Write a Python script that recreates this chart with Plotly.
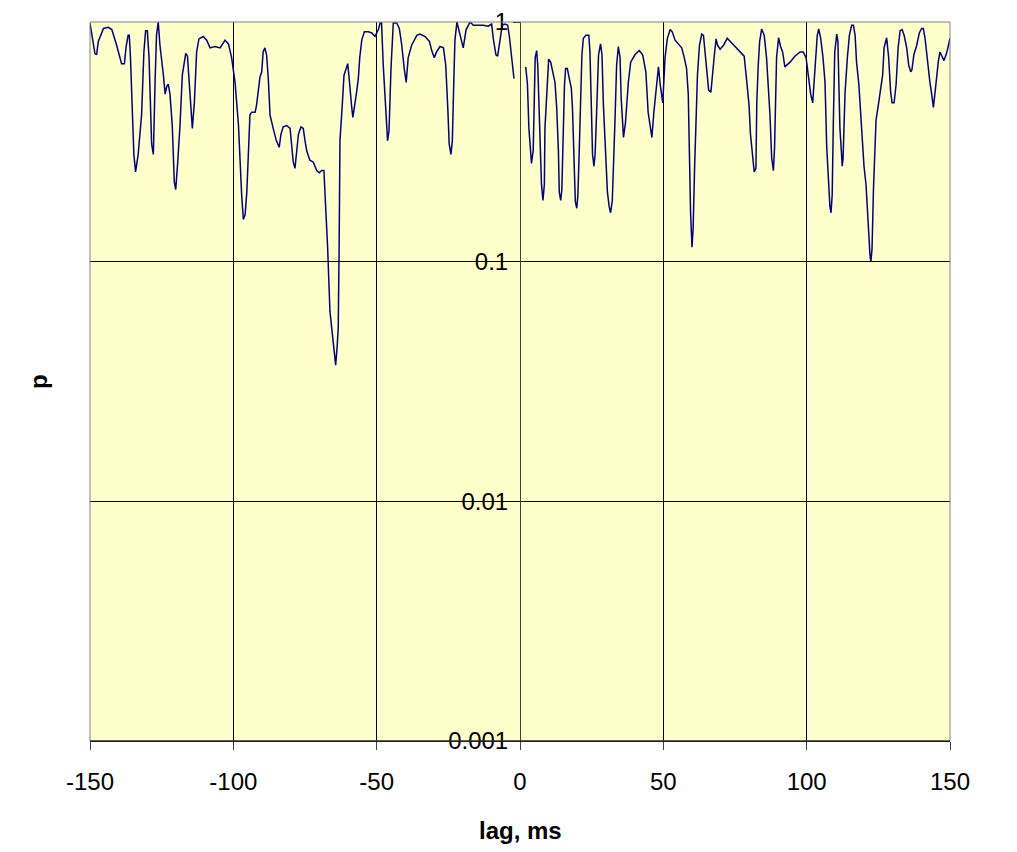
import plotly.graph_objects as go

# Cross-correlation significance (p) versus lag, two segments either side of zero lag
lag_neg = [
    -150.0, -148.3, -147.7, -147.1, -145.3, -143.6, -142.4, -140.7, -139.0, -138.0,
    -137.4, -136.7, -136.3, -135.9, -134.7, -134.1, -133.2, -132.0, -131.2, -130.6,
    -130.0, -129.4, -128.5, -127.9, -127.3, -126.8, -126.2, -125.6, -124.4, -123.8,
    -123.2, -122.7, -122.1, -121.3, -120.6, -120.1, -119.4, -118.6, -117.8, -116.6,
    -116.0, -114.8, -114.3, -113.6, -112.8, -112.0, -110.5, -109.3, -108.1, -106.4,
    -104.6, -102.9, -101.7, -100.6, -99.4, -98.2, -97.7, -97.1, -96.5, -95.9,
    -95.3, -94.8, -94.2, -93.6, -92.4, -91.9, -91.3, -90.7, -90.1, -89.6,
    -89.0, -88.4, -87.8, -87.2, -86.1, -85.0, -84.0, -83.4, -82.6, -81.4,
    -80.2, -79.7, -79.1, -78.5, -78.0, -77.3, -76.4, -75.6, -75.0, -74.4,
    -73.3, -72.1, -70.9, -70.0, -69.2, -68.4, -67.7, -67.1, -66.3, -65.6,
    -64.8, -64.3, -63.8, -63.4, -63.1, -62.8, -62.0, -61.4, -60.8, -60.1,
    -59.7, -59.3, -58.7, -58.3, -57.6, -57.0, -56.4, -55.9, -55.2, -54.3,
    -52.9, -51.7, -50.6, -49.4, -48.8, -48.3, -47.7, -46.9, -46.2, -45.7,
    -45.0, -44.2, -43.0, -42.1, -41.3, -40.4, -39.7, -39.0, -37.8, -36.0,
    -34.9, -33.1, -31.6, -30.8, -29.9, -29.1, -27.9, -26.7, -25.9, -25.2,
    -24.7, -24.1, -23.6, -23.1, -22.7, -22.0, -20.9, -19.8, -18.8, -17.4,
    -16.3, -14.5, -12.8, -11.1, -9.9, -9.3, -8.4, -7.8, -7.0, -6.2,
    -5.2, -4.3, -3.7, -2.9, -2.1,
]
p_neg = [
    0.99, 0.74, 0.73, 0.83, 0.94, 0.95, 0.93, 0.80, 0.67, 0.67,
    0.79, 0.88, 0.88, 0.72, 0.28, 0.237, 0.28, 0.41, 0.75, 0.92,
    0.92, 0.71, 0.31, 0.28, 0.56, 0.88, 1.0, 0.80, 0.60, 0.50,
    0.54, 0.55, 0.50, 0.37, 0.215, 0.20, 0.26, 0.37, 0.60, 0.74,
    0.72, 0.42, 0.36, 0.46, 0.75, 0.85, 0.87, 0.84, 0.78, 0.79,
    0.78, 0.84, 0.81, 0.71, 0.56, 0.37, 0.27, 0.19, 0.15, 0.157,
    0.195, 0.30, 0.41, 0.42, 0.42, 0.45, 0.53, 0.59, 0.62, 0.75,
    0.78, 0.73, 0.58, 0.41, 0.36, 0.32, 0.30, 0.34, 0.365, 0.37,
    0.36, 0.30, 0.26, 0.245, 0.28, 0.34, 0.365, 0.36, 0.32, 0.29,
    0.265, 0.26, 0.24, 0.235, 0.24, 0.24, 0.16, 0.114, 0.062, 0.051,
    0.041, 0.037, 0.044, 0.053, 0.114, 0.32, 0.45, 0.60, 0.63, 0.67,
    0.60, 0.51, 0.44, 0.40, 0.45, 0.51, 0.58, 0.71, 0.84, 0.91,
    0.91, 0.90, 0.87, 0.93, 0.99, 0.99, 0.66, 0.44, 0.32, 0.35,
    0.64, 0.99, 0.99, 0.94, 0.81, 0.64, 0.56, 0.71, 0.80, 0.88,
    0.89, 0.87, 0.83, 0.76, 0.71, 0.75, 0.79, 0.78, 0.66, 0.44,
    0.31, 0.28, 0.32, 0.56, 0.84, 1.0, 0.88, 0.78, 0.93, 1.0,
    0.97, 0.97, 0.97, 0.96, 0.98, 0.85, 0.73, 0.72, 0.85, 0.97,
    0.98, 0.97, 0.87, 0.72, 0.58,
]

lag_pos = [
    2.0, 2.6, 3.1, 3.7, 4.0, 4.6, 4.9, 5.3, 5.8, 6.2,
    6.7, 7.5, 8.0, 8.5, 8.7, 9.5, 10.0, 10.7, 11.6, 12.2,
    12.8, 13.4, 13.7, 14.2, 14.6, 15.0, 15.5, 15.9, 16.5, 17.2,
    17.9, 18.3, 18.8, 19.3, 19.8, 20.2, 20.7, 21.2, 21.6, 22.1,
    23.0, 24.0, 24.4, 24.9, 25.3, 25.8, 26.2, 26.7, 27.4, 28.1,
    28.6, 29.1, 29.8, 30.5, 31.1, 31.6, 32.2, 32.8, 33.2, 33.7,
    34.3, 34.9, 35.3, 36.1, 36.8, 37.8, 38.6, 40.1, 41.6, 42.8,
    43.9, 44.7, 45.5, 46.0, 46.7, 47.4, 47.8, 48.3, 48.9, 49.8,
    50.6, 51.4, 52.4, 53.1, 54.1, 55.2, 56.4, 57.3, 58.1, 58.7,
    59.1, 59.5, 60.0, 60.4, 60.9, 61.4, 61.9, 62.6, 63.4, 64.0,
    64.6, 65.2, 65.8, 66.6, 67.2, 67.8, 68.4, 68.9, 69.8, 71.0,
    72.3, 73.3, 75.0, 76.7, 78.2, 79.0, 79.9, 80.4, 81.1, 81.7,
    82.3, 82.6, 83.1, 83.6, 84.3, 85.2, 86.0, 86.6, 87.2, 87.8,
    88.4, 88.8, 89.2, 89.5, 90.2, 90.9, 91.6, 92.4, 94.2, 95.9,
    97.7, 98.8, 99.8, 100.6, 101.4, 102.1, 102.5, 103.1, 103.7, 104.2,
    104.9, 105.7, 106.4, 107.0, 107.7, 108.1, 108.5, 108.9, 109.3, 109.8,
    110.5, 110.9, 111.3, 111.6, 112.1, 112.4, 112.7, 113.4, 114.2, 114.9,
    115.7, 116.3, 116.9, 117.4, 118.2, 118.8, 119.5, 120.0, 120.7, 121.2,
    121.6, 122.1, 122.4, 122.8, 123.3, 123.8, 124.2, 125.0, 125.8, 126.5,
    127.0, 127.9, 128.6, 129.3, 129.8, 130.5, 131.2, 131.9, 132.6, 133.3,
    134.0, 134.9, 135.6, 136.3, 136.7, 137.4, 138.4, 139.3, 140.1, 140.7,
    141.3, 141.9, 142.4, 143.0, 143.6, 144.2, 144.8, 145.4, 145.9, 146.5,
    147.1, 147.9, 148.8, 150.0,
]
p_pos = [
    0.65, 0.55, 0.36, 0.28, 0.257, 0.29, 0.46, 0.71, 0.76, 0.66,
    0.42, 0.21, 0.18, 0.21, 0.36, 0.60, 0.70, 0.68, 0.60, 0.56,
    0.44, 0.29, 0.195, 0.18, 0.20, 0.33, 0.54, 0.64, 0.64, 0.58,
    0.53, 0.44, 0.28, 0.178, 0.167, 0.19, 0.30, 0.51, 0.73, 0.855,
    0.88, 0.88, 0.75, 0.44, 0.28, 0.25, 0.28, 0.41, 0.73, 0.81,
    0.73, 0.45, 0.28, 0.195, 0.17, 0.16, 0.18, 0.28, 0.41, 0.66,
    0.79, 0.71, 0.48, 0.33, 0.38, 0.56, 0.68, 0.73, 0.76, 0.73,
    0.62, 0.42, 0.36, 0.33, 0.42, 0.51, 0.58, 0.65, 0.55, 0.46,
    0.71, 0.855, 0.93, 0.91, 0.84, 0.81, 0.78, 0.71, 0.64, 0.50,
    0.23, 0.16, 0.115, 0.138, 0.245, 0.41, 0.60, 0.80, 0.89, 0.88,
    0.75, 0.62, 0.52, 0.51, 0.64, 0.73, 0.85, 0.80, 0.77, 0.80,
    0.855, 0.83, 0.79, 0.75, 0.72, 0.58, 0.45, 0.34, 0.28, 0.237,
    0.245, 0.46, 0.66, 0.83, 0.935, 0.88, 0.71, 0.56, 0.41, 0.27,
    0.24, 0.30, 0.50, 0.71, 0.86, 0.79, 0.75, 0.65, 0.68, 0.72,
    0.75, 0.75, 0.71, 0.58, 0.50, 0.46, 0.53, 0.71, 0.88, 0.935,
    0.855, 0.71, 0.56, 0.30, 0.215, 0.17, 0.16, 0.19, 0.38, 0.75,
    0.89, 0.83, 0.51, 0.36, 0.29, 0.25, 0.27, 0.51, 0.71, 0.88,
    0.97, 0.97, 0.88, 0.68, 0.55, 0.41, 0.33, 0.25, 0.21, 0.16,
    0.13, 0.106, 0.10, 0.113, 0.20, 0.29, 0.39, 0.45, 0.52, 0.60,
    0.78, 0.86, 0.71, 0.51, 0.46, 0.46, 0.55, 0.78, 0.92, 0.93,
    0.88, 0.78, 0.66, 0.62, 0.63, 0.73, 0.80, 0.90, 0.94, 0.94,
    0.855, 0.73, 0.62, 0.56, 0.50, 0.44, 0.51, 0.62, 0.68, 0.75,
    0.72, 0.69, 0.74, 0.855,
]

x_ticks = [-150, -100, -50, 0, 50, 100, 150]
x_tick_text = ["-150", "-100", "-50", "0", "50", "100", "150"]
y_ticks = [0.001, 0.01, 0.1, 1]
y_tick_text = ["0.001", "0.01", "0.1", "1"]

FONT = "Arial, Liberation Sans, sans-serif"

fig = go.Figure()
fig.add_trace(go.Scatter(
    x=lag_neg + [None] + lag_pos,
    y=p_neg + [None] + p_pos,
    mode="lines",
    connectgaps=False,
    line=dict(color="#000080", width=1.5),
    showlegend=False,
))

fig.update_layout(
    width=1017, height=852,
    margin=dict(l=90, r=67, t=22, b=111),
    paper_bgcolor="white",
    plot_bgcolor="#FFFFCC",
    font=dict(family=FONT, size=24, color="black"),
    xaxis=dict(
        range=[-150, 150],
        tickvals=x_ticks,
        ticktext=x_tick_text,
        ticks="outside", ticklen=8, tickcolor="#404040", tickwidth=1,
        showline=True, linecolor="black", linewidth=1,
        showgrid=True, gridcolor="black", gridwidth=1,
        zeroline=False,
        tickfont=dict(size=24),
        ticklabelstandoff=11,
        automargin=False,
    ),
    yaxis=dict(
        type="log",
        range=[-3, 0],
        tickvals=y_ticks,
        ticktext=y_tick_text,
        anchor="free", position=0.5,
        ticks="outside", ticklen=7, tickcolor="black", tickwidth=1,
        showline=True, linecolor="#404040", linewidth=1,
        showgrid=True, gridcolor="black", gridwidth=1,
        zeroline=False,
        tickfont=dict(size=24),
        automargin=False,
    ),
    shapes=[
        dict(type="rect", xref="paper", yref="paper", x0=0, x1=1, y0=0, y1=1,
             line=dict(color="#808080", width=1), fillcolor="rgba(0,0,0,0)", layer="above"),
        dict(type="line", xref="paper", yref="paper", x0=0, x1=1, y0=0, y1=0,
             line=dict(color="black", width=1), layer="above"),
    ],
    annotations=[
        dict(text="<b>p</b>", xref="paper", yref="paper", x=-0.06, y=0.5,
             showarrow=False, textangle=-90, font=dict(size=24),
             xanchor="center", yanchor="middle"),
        dict(text="<b>lag, ms</b>", xref="paper", yref="paper", x=0.5, y=-0.124,
             showarrow=False, font=dict(size=24),
             xanchor="center", yanchor="middle"),
    ],
)

fig.write_html("out.html")
